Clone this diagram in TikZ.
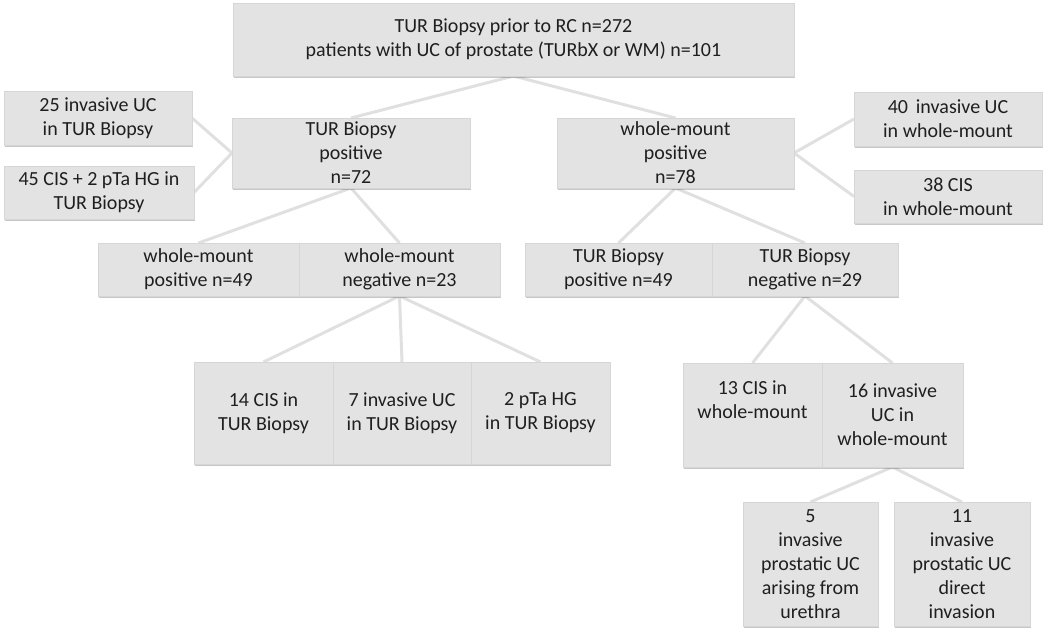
\documentclass[tikz,border=0pt]{standalone}
\usepackage{fontspec}
\setmainfont{Carlito}
\usetikzlibrary{positioning}
\usetikzlibrary{shadows}
\usetikzlibrary{backgrounds}

\begin{document}
\begin{tikzpicture} [x=1pt, y=1pt,
        box/.style = {fill=black!11, draw=black!16, line width=0.4pt, outer sep=0pt, inner sep=2pt,
            align=center, text=black!88, font=\fontsize{20}{24}\selectfont,
            drop shadow={shadow xshift=0.6pt, shadow yshift=-1.6pt, fill=black, opacity=0.22}},
        link/.style = {draw=black!12, line width=3pt}]
        \useasboundingbox (0,0) rectangle (1050,-631);

        %Knoten
        \node[box, minimum width=561pt, minimum height=73pt] (root) at (513.5,-39.5)
            {TUR Biopsy prior to RC n=272\\patients with UC of prostate (TURbX or WM) n=101};

        \node[box, minimum width=238pt, minimum height=70pt] (turpos) at (351,-153) {TUR Biopsy\\positive\\n=72};
        \node[box, minimum width=237pt, minimum height=70pt] (wmpos) at (675.5,-153) {whole-mount\\positive\\n=78};

        \node[box, minimum width=188pt, minimum height=54pt] (inv25) at (98,-118) {25 invasive UC\\in TUR Biopsy};
        \node[box, minimum width=190pt, minimum height=53pt] (cis45) at (99,-192.5) {45 CIS + 2 pTa HG in\\TUR Biopsy};

        \node[box, minimum width=188pt, minimum height=54pt] (inv40) at (948,-119) {40\, invasive UC\\in whole-mount};
        \node[box, minimum width=188pt, minimum height=53pt] (cis38) at (948,-196.5) {38 CIS\\in whole-mount};

        \node[box, minimum width=201pt, minimum height=53pt] (wmpos49) at (198.5,-269.5) {whole-mount\\positive n=49};
        \node[box, minimum width=201pt, minimum height=53pt] (wmneg23) [right = 0pt of wmpos49] {whole-mount\\negative n=23};

        \node[box, minimum width=187pt, minimum height=53pt] (turpos49) at (618.5,-269.5) {TUR Biopsy\\positive n=49};
        \node[box, minimum width=186pt, minimum height=53pt] (turneg29) [right = 0pt of turpos49] {TUR Biopsy\\negative n=29};

        \node[box, minimum width=139pt, minimum height=102pt] (cis14) at (263.5,-413) {14 CIS in\\TUR Biopsy};
        \node[box, minimum width=138pt, minimum height=102pt] (inv7) [right = 0pt of cis14] {7 invasive UC\\in TUR Biopsy};
        \node[box, minimum width=139pt, minimum height=102pt] (pta2) [right = 0pt of inv7] {2 pTa HG\\in TUR Biopsy};

        \node[box, minimum width=139pt, minimum height=104pt] (cis13) at (752.5,-415) {13 CIS in\\whole-mount\\\strut};
        \node[box, minimum width=141pt, minimum height=104pt] (inv16) [right = 0pt of cis13] {16 invasive\\UC in\\whole-mount};

        \node[box, minimum width=135pt, minimum height=124pt] (inv5) at (810.5,-564) {5\\invasive\\prostatic UC\\arising from\\urethra};
        \node[box, minimum width=136pt, minimum height=124pt] (inv11) at (962,-564) {11\\invasive\\prostatic UC\\direct\\invasion};

        %Kanten
        \begin{scope}[on background layer]
        \draw[link] (root.south) -- (turpos.north);
        \draw[link] (root.south) -- (wmpos.north);

        \draw[link] (turpos.west) -- (inv25.east);
        \draw[link] (turpos.west) -- (cis45.east);
        \draw[link] (wmpos.east) -- (inv40.west);
        \draw[link] (wmpos.east) -- (cis38.west);

        \draw[link] (turpos.south) -- (wmpos49.north);
        \draw[link] (turpos.south) -- (wmneg23.north);
        \draw[link] (wmpos.south) -- (turpos49.north);
        \draw[link] (wmpos.south) -- (turneg29.north);

        \draw[link] (wmneg23.south) -- (cis14.north);
        \draw[link] (wmneg23.south) -- (inv7.north);
        \draw[link] (wmneg23.south) -- (pta2.north);

        \draw[link] (turneg29.south) -- (cis13.north);
        \draw[link] (turneg29.south) -- (inv16.north);

        \draw[link] (inv16.south) -- (inv5.north);
        \draw[link] (inv16.south) -- (inv11.north);
        \end{scope}

    \end{tikzpicture}
\end{document}
